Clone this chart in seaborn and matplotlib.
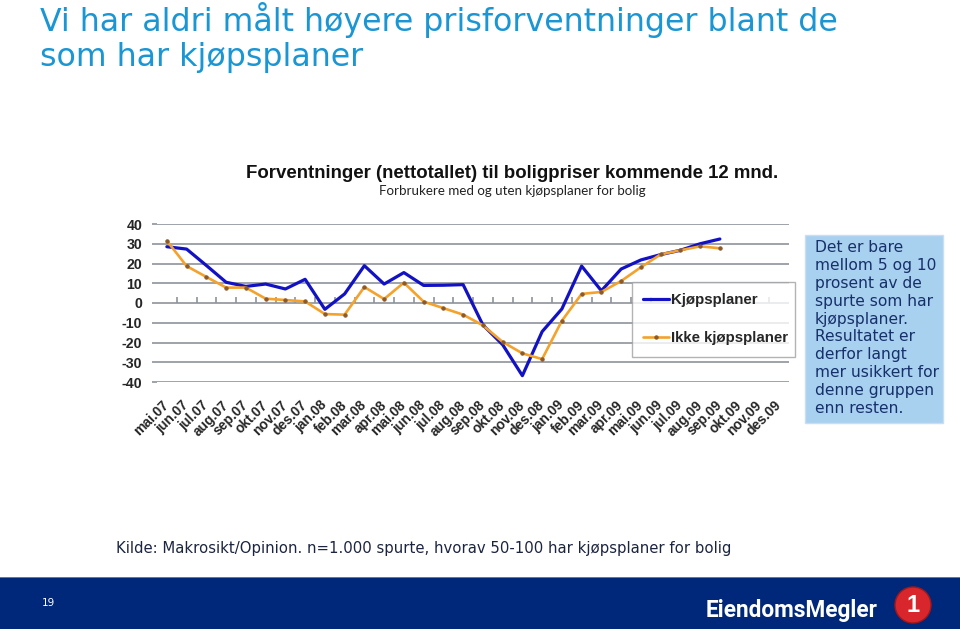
import numpy as np
import pandas as pd
import matplotlib
matplotlib.use("Agg")
import matplotlib.pyplot as plt
import seaborn as sns
from matplotlib.patches import Rectangle, Ellipse

# -----------------------------
# Data
# -----------------------------

months = [
    "mai.07", "jun.07", "jul.07", "aug.07", "sep.07", "okt.07", "nov.07", "des.07",
    "jan.08", "feb.08", "mar.08", "apr.08", "mai.08", "jun.08", "jul.08", "aug.08",
    "sep.08", "okt.08", "nov.08", "des.08",
    "jan.09", "feb.09", "mar.09", "apr.09", "mai.09", "jun.09", "jul.09", "aug.09",
    "sep.09", "okt.09", "nov.09", "des.09",
]

kjopsplaner = [
    28.5, 27.3, 19.0, 10.5, 8.4, 9.6, 7.1, 12.0, -3.2, 4.6,
    18.9, 9.6, 15.4, 8.9, 9.0, 9.3, -11.1, -21.1, -36.8, -14.5,
    -3.0, 18.7, 6.2, 17.2, 21.8, 24.5, 26.7, 30.0, 32.4,
]

ikke_kjopsplaner = [
    31.5, 18.7, 13.2, 7.8, 7.8, 2.2, 1.5, 0.8, -5.6, -5.9,
    8.1, 2.0, 10.3, 0.7, -2.6, -5.9, -11.3, -19.7, -25.5, -28.4,
    -9.0, 4.6, 5.6, 11.1, 18.1, 24.6, 26.7, 28.7, 27.7,
]

y_ticks = [-40, -30, -20, -10, 0, 10, 20, 30, 40]

df = pd.DataFrame({
    "pos": np.arange(len(kjopsplaner)),
    "maaned": months[:len(kjopsplaner)],
    "Kjøpsplaner": kjopsplaner,
    "Ikke kjøpsplaner": ikke_kjopsplaner,
})

# -----------------------------
# Styling
# -----------------------------

sns.set_style("white")
plt.rcParams["font.family"] = ["DejaVu Sans"]

BLUE = "#1212c4"
ORANGE = "#f4a22c"
GRID = "#8d939c"
W, H = 960, 629


def fx(px):
    return px / W


def fy(py):
    return 1 - py / H


fig = plt.figure(figsize=(9.6, 6.29), dpi=100)

# -----------------------------
# Slide header
# -----------------------------

fig.text(fx(40), fy(31), "Vi har aldri målt høyere prisforventninger blant de",
         color="#1a96d4", fontsize=22.8, va="baseline", ha="left")
fig.text(fx(40), fy(66), "som har kjøpsplaner",
         color="#1a96d4", fontsize=22.8, va="baseline", ha="left")

fig.text(fx(512), fy(178), "Forventninger (nettotallet) til boligpriser kommende 12 mnd.",
         family="Liberation Sans", weight="bold", fontsize=13.4,
         ha="center", va="baseline", color="#111111")
fig.text(fx(512), fy(195), "Forbrukere med og uten kjøpsplaner for bolig",
         family="Lato", fontsize=9.6, ha="center", va="baseline", color="#222222")

# -----------------------------
# Chart
# -----------------------------

ax = fig.add_axes([fx(157), fy(382), fx(789) - fx(157), fy(224) - fy(382)])

sns.lineplot(data=df, x="pos", y="Kjøpsplaner", ax=ax, color=BLUE,
             linewidth=2.3, label="Kjøpsplaner")
sns.lineplot(data=df, x="pos", y="Ikke kjøpsplaner", ax=ax, color=ORANGE,
             linewidth=1.9, marker="o", markersize=2.4,
             markerfacecolor="#8a5a2a", markeredgecolor="#8a5a2a",
             label="Ikke kjøpsplaner")

ax.set_xlim(-0.5, len(months) - 0.5)
ax.set_ylim(-40, 40)
ax.set_yticks(y_ticks)
ax.set_yticklabels([str(v) for v in y_ticks], family="Liberation Sans",
                   weight="bold", fontsize=10.2)
ax.yaxis.grid(True, color=GRID, linewidth=1.2)
ax.set_axisbelow(True)
ax.tick_params(axis="y", length=3.6, width=1.2, color=GRID, pad=7, left=True)

ax.set_xticks(np.arange(len(months)))
ax.set_xticklabels(months, family="Liberation Sans", weight="bold",
                   fontsize=9.9, rotation=45, ha="right", va="center",
                   rotation_mode="anchor")
ax.tick_params(axis="x", length=0, pad=15)

ax.set_xlabel("")
ax.set_ylabel("")
for s in ax.spines.values():
    s.set_visible(False)

# category tick marks along the zero line
zero_axis = ax.secondary_xaxis(0.5)
zero_axis.set_xticks(np.arange(0.5, len(months) - 1, 1))
zero_axis.set_xticklabels([])
zero_axis.tick_params(length=4, width=1.2, color=GRID, direction="out")
for s in zero_axis.spines.values():
    s.set_visible(False)

leg = ax.legend(loc="upper left",
                bbox_to_anchor=(fx(632), fy(359), fx(795) - fx(632), fy(282) - fy(359)),
                bbox_transform=fig.transFigure, mode="expand",
                frameon=True, fancybox=False, edgecolor="#a0a0a0",
                prop={"family": "Liberation Sans", "weight": "bold", "size": 10.8},
                handlelength=1.7, handletextpad=0.15, labelspacing=1.6,
                borderpad=0.75, borderaxespad=0)
leg.get_frame().set_linewidth(1.0)

# -----------------------------
# Side note
# -----------------------------

fig.add_artist(Rectangle((fx(805), fy(423)), fx(943) - fx(805), fy(235) - fy(423),
                         transform=fig.transFigure, facecolor="#a8d0ef",
                         edgecolor="#c8dff2", linewidth=1))
note = ("Det er bare\nmellom 5 og 10\nprosent av de\nspurte som har\n"
        "kjøpsplaner.\nResultatet er\nderfor langt\nmer usikkert for\n"
        "denne gruppen\nenn resten.")
fig.text(fx(815), fy(240), note, fontsize=11.2, color="#16306a",
         ha="left", va="top", linespacing=1.24)

# -----------------------------
# Source + footer
# -----------------------------

fig.text(fx(116), fy(553), "Kilde: Makrosikt/Opinion. n=1.000 spurte, hvorav 50-100 har kjøpsplaner for bolig",
         fontsize=10.7, color="#1c2540", ha="left", va="baseline")

fig.add_artist(Rectangle((0, 0), 1, fy(577), transform=fig.transFigure,
                         facecolor="#00287a", edgecolor="none"))
fig.add_artist(Rectangle((0, fy(578)), 1, fy(577) - fy(578), transform=fig.transFigure,
                         facecolor="#5a78b0", edgecolor="none"))
fig.text(fx(48), fy(603), "19", color="white", fontsize=7.5, ha="center", va="center")
fig.text(fx(706), fy(617), "EiendomsMegler", color="white", family="Roboto",
         weight="bold", fontsize=16.3, ha="left", va="baseline")
fig.add_artist(Ellipse((fx(913), fy(605)), 36 / W, 36 / H, transform=fig.transFigure,
                       facecolor="#d8262c", edgecolor="#a01818", linewidth=1))
fig.text(fx(913), fy(606), "1", color="white", family="Liberation Sans",
         weight="bold", fontsize=17, ha="center", va="center")

fig.savefig("out.png", dpi=100)
plt.close(fig)
